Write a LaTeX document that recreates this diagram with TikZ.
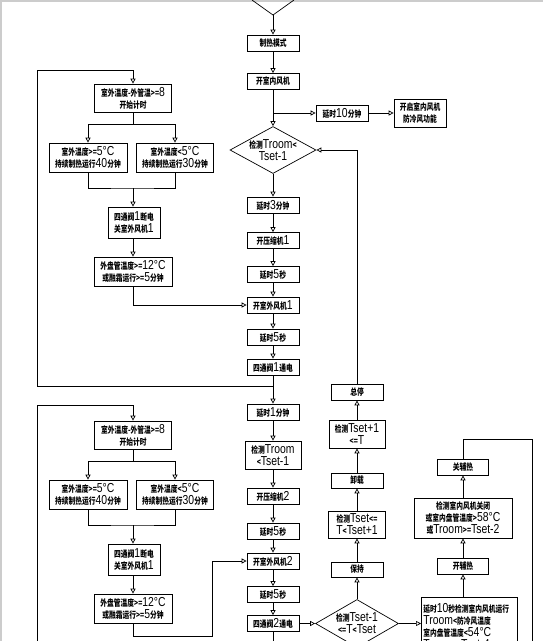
\documentclass[tikz,border=0pt]{standalone}
\usepackage{fontspec}
\setmainfont[FakeStretch=0.75]{Noto Sans CJK SC}
\newfontfamily\latin[FakeStretch=0.8]{Liberation Sans}
\newcommand{\lt}[1]{{\fontsize{13}{13}\mdseries\latin #1}}
\usetikzlibrary{shapes}
\usetikzlibrary{arrows.meta}

\begin{document}
\begin{tikzpicture}[x=1pt, y=-1pt, line width=0.7pt,
    every node/.style={font=\fontsize{9}{12}\selectfont\bfseries},
    box/.style={draw, inner sep=1pt, minimum width=52, minimum height=16, align=center},
    test/.style={draw, diamond, inner sep=-4pt, aspect=1.8, align=center},
    >={Triangle[open,length=5pt,width=5pt]}]
  \useasboundingbox (0,0) rectangle (543,641);
  \clip (0,0) rectangle (543,641);
  \fill[black!20] (0,0) rectangle (543,2);
  \fill[black!20] (0,0) rectangle (2,641);

  % main column
  \draw (252,0) -- (273,15) coordinate (start) -- (294,0);
  \foreach \n/\y/\t in {heat/43/{制热模式}, fan/81.5/{开室内风机},
      t3/205/{延时\lt{3}分钟}, comp1/240.5/{开压缩机\lt{1}}, s5a/274.5/{延时\lt{5}秒},
      ofan1/305/{开室外风机\lt{1}}, s5b/337/{延时\lt{5}秒}, v1on/367/{四通阀\lt{1}通电},
      t1/412/{延时\lt{1}分钟}, comp2/496/{开压缩机\lt{2}}, s5c/531/{延时\lt{5}秒},
      ofan2/561/{开室外风机\lt{2}}, s5d/594.5/{延时\lt{5}秒}, v2on/623.5/{四通阀\lt{2}通电}}
    \node[box] (\n) at (273,\y) {\t};
  \node[test, minimum width=86, minimum height=47] (chk1) at (273,150) {检测\lt{Troom}<\\\lt{Tset-1}};
  \node[box, minimum width=56, minimum height=28] (chk2) at (273,455) {检测\lt{Troom}\\<\lt{Tset-1}};
  \node[box] (d10) at (342,113) {延时\lt{10}分钟};
  \node[box, minimum height=28] (anti) at (420,113) {开启室内风机\\防冷风功能};

  \draw[->] (start) -- (heat);
  \draw[->] (fan) -- (chk1);
  \coordinate (br) at (273,113);
  \draw[->] (br) -- (d10);
  \draw[->] (d10) -- (anti);
  \foreach \a/\b in {heat/fan, chk1/t3, t3/comp1, comp1/s5a, s5a/ofan1, ofan1/s5b, s5b/v1on,
      v1on/t1, t1/chk2, chk2/comp2, comp2/s5c, s5c/ofan2, ofan2/s5d, s5d/v2on}
    \draw[->] (\a) -- (\b);
  \coordinate (mb) at (273,660);
  \draw (v2on) -- (mb);

  % left groups
  \foreach \i/\dy in {1/0, 2/337}
  {
    \node[box, minimum width=77, minimum height=28] (ltimer\i) at (133,98+\dy) {室外温度-外管温>=\lt{8}\\开始计时};
    \node[box, minimum width=78, minimum height=29] (lwarm\i) at (88,157.5+\dy) {室外温度>=\lt{5°C}\\持续制热运行\lt{40}分钟};
    \node[box, minimum width=77, minimum height=29] (lcold\i) at (175,157.5+\dy) {室外温度<\lt{5°C}\\持续制热运行\lt{30}分钟};
    \node[box, minimum height=31] (lvoff\i) at (134,222.5+\dy) {四通阀\lt{1}断电\\关室外风机\lt{1}};
    \node[box, minimum width=78, minimum height=29] (ldef\i) at (133,271.5+\dy) {外盘管温度>=\lt{12°C}\\或融霜运行>=\lt{5}分钟};
    \coordinate (sp\i) at (133,124+\dy);
    \coordinate (jn\i) at (133,188+\dy);
    \draw (ltimer\i) -- (sp\i);
    \draw[->] (sp\i) -| (lwarm\i);
    \draw[->] (sp\i) -| (lcold\i);
    \draw (lwarm\i) |- (jn\i) -| (lcold\i);
    \draw[->] (jn\i) -- (jn\i |- lvoff\i.north);
    \draw[->] (ldef\i |- lvoff\i.south) -- (ldef\i);
  }
  \coordinate (j1) at (273,386);
  \coordinate (lp1) at (37,70);
  \draw[->] (j1) -| (lp1) -| (ltimer1);
  \draw[->] (ldef1) |- (ofan1);
  \coordinate (lb) at (37,660);
  \coordinate (lp2) at (37,405);
  \draw[->] (lb) -- (lp2) -| (ltimer2);
  \coordinate (c2) at (212,636);
  \draw[->] (ldef2) |- (c2) |- (ofan2);

  % right column
  \node[test, minimum width=83, minimum height=48] (chk3) at (357,623.5) {检测\lt{Tset-1}\\<=\lt{T}<\lt{Tset}};
  \node[box, minimum height=15] (keep) at (357,569.5) {保持};
  \node[box, minimum width=57, minimum height=27] (chkmid) at (357,524.5) {检测\lt{Tset}<=\\\lt{T}<\lt{Tset+1}};
  \node[box, minimum height=15] (unload) at (357,480.5) {卸载};
  \node[box, minimum width=56, minimum height=28] (chkhi) at (357,434) {检测\lt{Tset+1}\\<=\lt{T}};
  \node[box] (stop) at (357,392) {总停};
  \draw[->] (v2on) -- (chk3);
  \foreach \a/\b in {chk3/keep, keep/chkmid, chkmid/unload, unload/chkhi, chkhi/stop}
    \draw[->] (\a) -- (\b);
  \draw[->] (stop) |- (chk1);

  % auxiliary heat
  \node[box, anchor=north west, text width=92, minimum height=58, align=left, inner sep=2pt] (aux) at (421,597)
    {延时\lt{10}秒检测室内风机运行\\\lt{Troom}<防冷风温度\\室内盘管温度<\lt{54°C}\\\lt{Troom}>=\lt{Tset-4}};
  \node[box, minimum width=51] (auxon) at (463,566) {开辅热};
  \node[box, minimum width=98, minimum height=40] (chkoff) at (463,518) {检测室内风机关闭\\或室内盘管温度>\lt{58°C}\\或\lt{Troom}>=\lt{Tset-2}};
  \node[box, minimum width=51] (auxoff) at (463,467) {关辅热};
  \draw[->] (chk3) -- (chk3 -| aux.west);
  \draw[->] (auxon |- aux.north) -- (auxon);
  \draw[->] (auxon) -- (chkoff);
  \draw[->] (chkoff) -- (auxoff);
  \coordinate (rl) at (532,439);
  \coordinate (rb) at (532,660);
  \draw (auxoff) |- (rl) -- (rb);
\end{tikzpicture}
\end{document}
